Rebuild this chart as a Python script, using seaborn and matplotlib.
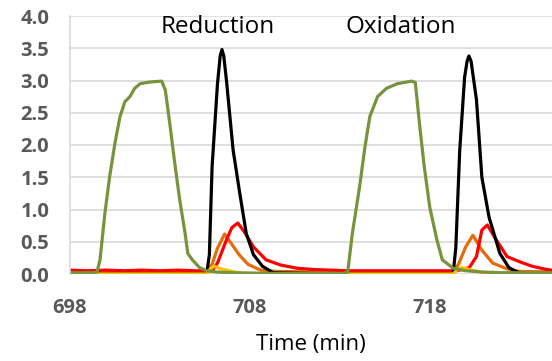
import numpy as np
import pandas as pd
import matplotlib
matplotlib.use("Agg")
import matplotlib.pyplot as plt
import seaborn as sns

# ---- data ----
green_t = [698, 699.3, 699.5, 699.67, 699.94, 700.2, 700.5, 700.78, 701.05, 701.33, 701.6, 701.9,
           702.3, 702.6, 703.1, 703.3, 703.55, 703.8, 704.1, 704.4, 704.55, 704.8, 705.2, 705.6,
           706.2, 707, 709, 711, 713.2, 713.44, 713.7, 714.1, 714.4, 714.67, 715.1, 715.6, 716.2,
           716.6, 717.0, 717.2, 717.45, 717.7, 718.0, 718.4, 718.7, 719.3, 720, 721, 722, 723, 724, 725]
green_v = [0.02, 0.02, 0.03, 0.22, 0.94, 1.5, 2.03, 2.44, 2.67, 2.75, 2.88, 2.95,
           2.97, 2.98, 2.99, 2.85, 2.33, 1.77, 1.15, 0.63, 0.32, 0.22, 0.1, 0.05,
           0.03, 0.02, 0.01, 0.01, 0.01, 0.03, 0.63, 1.35, 1.97, 2.44, 2.75, 2.88, 2.95,
           2.97, 2.99, 2.97, 2.28, 1.66, 1.04, 0.53, 0.22, 0.09, 0.05, 0.03, 0.02, 0.02, 0.02, 0.02]

black_t = [698, 705.6, 705.75, 705.9, 706.2, 706.35, 706.45, 706.55, 706.7, 707.07, 707.44, 707.8,
           708.2, 708.7, 709.3, 713, 719.3, 719.45, 719.67, 719.94, 720.08, 720.18, 720.3, 720.4,
           720.6, 720.9, 721.3, 721.9, 722.4, 722.8, 723.2, 725]
black_v = [0, 0, 0.3, 1.66, 2.95, 3.38, 3.48, 3.38, 3.0, 1.92, 1.25, 0.63,
           0.3, 0.12, 0.02, 0, 0, 0.4, 1.92, 3.05, 3.3, 3.38, 3.3, 3.1,
           2.7, 1.5, 0.88, 0.32, 0.1, 0.04, 0, 0]

orange_t = [698, 705.6, 705.9, 706.2, 706.6, 706.9, 707.4, 707.9, 708.6, 709.5, 712,
            719.3, 719.6, 720.0, 720.4, 720.9, 721.5, 722.3, 723, 725]
orange_v = [0.03, 0.03, 0.15, 0.4, 0.62, 0.5, 0.3, 0.15, 0.06, 0.04, 0.03,
            0.03, 0.15, 0.42, 0.6, 0.37, 0.17, 0.08, 0.04, 0.03]

red_t = [698, 699, 700, 701, 702, 703, 704, 705, 705.9, 706.2, 706.7, 707.0, 707.33, 707.7,
         708.2, 708.9, 709.7, 710.6, 711.5, 712.5, 713.5, 715, 717, 719, 719.5, 720.2, 720.6,
         720.9, 721.2, 721.7, 722.3, 723.0, 723.7, 724.5, 725]
red_v = [0.06, 0.05, 0.06, 0.05, 0.06, 0.05, 0.06, 0.05, 0.05, 0.17, 0.53, 0.72, 0.79, 0.65,
         0.42, 0.22, 0.14, 0.09, 0.07, 0.06, 0.05, 0.05, 0.05, 0.05, 0.05, 0.1, 0.27,
         0.68, 0.76, 0.53, 0.27, 0.19, 0.12, 0.07, 0.05]

yellow_t = [698, 705.6, 705.8, 706.0, 706.4, 707, 707.6, 712, 719.3, 719.55, 719.8, 720.2, 720.8, 721.4, 725]
yellow_v = [0.0, 0.0, 0.08, 0.12, 0.08, 0.04, 0.01, 0.0, 0.0, 0.07, 0.1, 0.07, 0.03, 0.01, 0.0]

x_ticks = [698, 708, 718]
y_ticks = [0.0, 0.5, 1.0, 1.5, 2.0, 2.5, 3.0, 3.5, 4.0]
labels = ["Reduction", "Oxidation"]
label_x = [706.2, 716.4]

# ---- plot ----
sns.set_style("white")
plt.rcParams['font.family'] = ['Open Sans', 'DejaVu Sans']

fig = plt.figure(figsize=(5.52, 3.61), dpi=100)
ax = fig.add_axes([70/552, 1-274/361, 1-70/552, (274-16)/361])

series = [
    (orange_t, orange_v, "#E46C0A"),
    (red_t, red_v, "#FF0000"),
    (black_t, black_v, "#000000"),
    (yellow_t, yellow_v, "#FFC000"),
    (green_t, green_v, "#77933C"),
]
for t, v, c in series:
    sns.lineplot(x=t, y=v, ax=ax, color=c, linewidth=2.3, sort=False, estimator=None)

ax.set_xlim(698, 724.8)
ax.set_ylim(0, 4.0)
ax.set_xticks(x_ticks)
ax.set_yticks(y_ticks)
ax.set_xticklabels([str(x) for x in x_ticks])
ax.set_yticklabels([f"{y:.1f}" for y in y_ticks])
for lab in ax.get_xticklabels() + ax.get_yticklabels():
    lab.set_fontweight("bold")
    lab.set_color("#595959")
    lab.set_fontsize(14.5)
ax.tick_params(axis='x', length=0, pad=17)
ax.tick_params(axis='y', length=0, pad=15)

ax.grid(axis='y', color="#D9D9D9", linewidth=1.2)
ax.set_axisbelow(True)
for s in ["top", "right", "bottom"]:
    ax.spines[s].set_visible(False)
ax.spines["left"].set_color("#D9D9D9")
ax.spines["left"].set_linewidth(1.2)

for lx, lab in zip(label_x, labels):
    ax.text(lx, 3.74, lab, fontsize=17.5, color="black", ha="center", va="baseline")

ax.set_xlabel("Time (min)", fontsize=16, color="black", labelpad=12)
ax.set_ylabel("")

fig.savefig("out.png", dpi=100)
